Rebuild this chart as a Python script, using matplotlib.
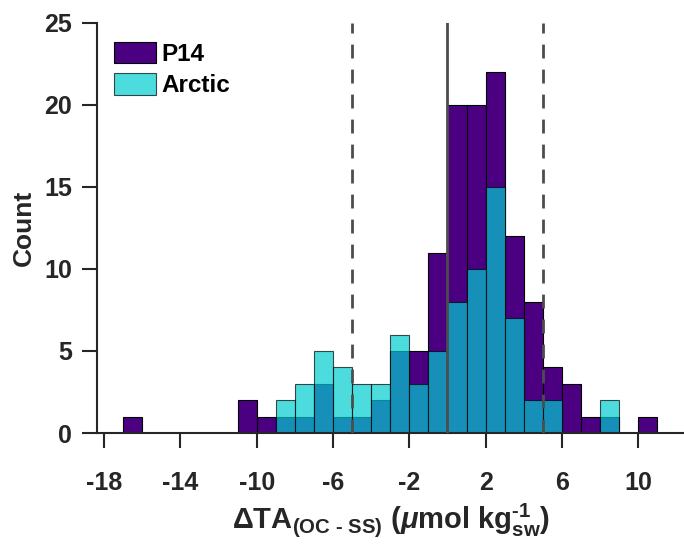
import numpy as np
import matplotlib
matplotlib.use("Agg")
import matplotlib.pyplot as plt

# bin edges are whole numbers, width 1
bin_left = np.arange(-17, 11)
p14 = [1, 0, 0, 0, 0, 0, 2, 1, 1, 1, 3, 1, 1, 2, 5, 5, 11, 20, 20, 22, 12, 8, 4, 3, 1, 1, 0, 1]
arctic = [0, 0, 0, 0, 0, 0, 0, 0, 2, 3, 5, 4, 3, 3, 6, 3, 5, 8, 10, 15, 7, 2, 2, 0, 0, 2, 0, 0]
xticks = np.arange(-18, 11, 4)
yticks = np.arange(0, 26, 5)
ref_lines = [-5, 0, 5]

plt.rcParams['font.family'] = ['Liberation Sans', 'DejaVu Sans']
plt.rcParams['font.weight'] = 'bold'
plt.rcParams['axes.unicode_minus'] = False
plt.rcParams['mathtext.fontset'] = 'custom'
plt.rcParams['mathtext.rm'] = 'Liberation Sans:bold'
plt.rcParams['mathtext.bf'] = 'Liberation Sans:bold'
plt.rcParams['mathtext.it'] = 'Liberation Sans:bold:italic'

fig = plt.figure(figsize=(6.84, 5.44), dpi=100)
ax = fig.add_axes([0.1423, 0.204, 0.8577, 0.754])

edges = np.append(bin_left, bin_left[-1] + 1)
ax.hist(bin_left + 0.5, bins=edges, weights=p14, color='#4b0082',
        edgecolor='black', linewidth=0.8, label='P14')
ax.hist(bin_left + 0.5, bins=edges, weights=arctic, color='#00ced1', alpha=0.7,
        edgecolor='black', linewidth=0.8, label='Arctic')

for v in ref_lines:
    ax.axvline(v, color='#4d4d4d', linewidth=2,
               linestyle='-' if v == 0 else (0, (5, 4)), zorder=3)

ax.set_xlim(-18.35, 12.4)
ax.set_ylim(0, 25)
ax.set_xticks(xticks)
ax.set_yticks(yticks)
ax.spines['top'].set_visible(False)
ax.spines['right'].set_visible(False)
for s in ['left', 'bottom']:
    ax.spines[s].set_linewidth(1.5)
    ax.spines[s].set_color('#262626')
ax.tick_params(axis='both', direction='out', length=11, width=1.5,
               color='#262626', labelsize=18, labelcolor='#262626')
ax.tick_params(axis='x', pad=16)
ax.tick_params(axis='y', pad=7)

ax.set_xlabel(r'$\Delta$TA$_{\text{(OC - SS)}}$ ($\mathit{\mu}$mol kg$_{\mathrm{sw}}^{\text{-1}}$)',
              fontsize=21, fontweight='bold', color='#262626', labelpad=5)
ax.set_ylabel('Count', fontsize=19, fontweight='bold', color='#262626', labelpad=6)

leg = ax.legend(loc='upper left', bbox_to_anchor=(0.003, 0.99), frameon=False,
                fontsize=17.5, handlelength=1.75, handleheight=1.0,
                handletextpad=0.2, labelspacing=0.3, borderaxespad=0.2)
for t in leg.get_texts():
    t.set_fontweight('bold')

fig.savefig('out.png', dpi=100)
